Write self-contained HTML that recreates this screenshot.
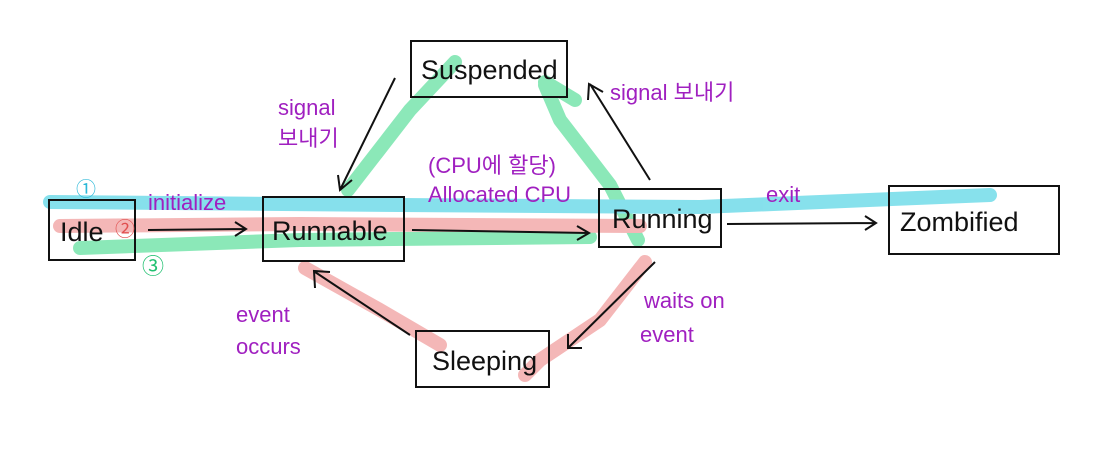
<!DOCTYPE html>
<html><head><meta charset="utf-8"><style>
html,body{margin:0;padding:0;background:#fff;}
svg{display:block}
text{font-family:"Liberation Sans","Noto Sans CJK KR",sans-serif;}
</style></head><body>
<svg width="1096" height="462" viewBox="0 0 1096 462" xmlns="http://www.w3.org/2000/svg">
<rect width="1096" height="462" fill="#fff"/>
<g fill="none" stroke-linecap="round" stroke-linejoin="round" opacity="0.6">
<path d="M80,248 L300,240 L590,237" stroke="#3fd98a" stroke-width="14"/>
<path d="M638,240 L610,185 L560,120 L545,85" stroke="#3fd98a" stroke-width="14"/>
<path d="M455,62 L410,110 L348,190" stroke="#3fd98a" stroke-width="14"/>
<path d="M575,100 L545,82" stroke="#3fd98a" stroke-width="14"/>
<path d="M60,226 L300,224 L640,226" stroke="#ee8888" stroke-width="14"/>
<path d="M645,262 L600,320 L540,360 L525,375" stroke="#ee8888" stroke-width="14"/>
<path d="M440,345 L380,310 L305,268" stroke="#ee8888" stroke-width="14"/>
<path d="M50,202 L400,205 L700,207 L990,195" stroke="#37cde0" stroke-width="14"/>
</g>
<g fill="none" stroke="#111" stroke-width="2">
<rect x="49" y="200" width="86" height="60"/>
<rect x="263" y="197" width="141" height="64"/>
<rect x="599" y="189" width="122" height="58"/>
<rect x="889" y="186" width="170" height="68"/>
<rect x="411" y="41" width="156" height="56"/>
<rect x="416" y="331" width="133" height="56"/>
<path d="M148,230 L245,229 M235,222 L246,229 L235,236"/>
<path d="M412,230 L588,233 M577,226 L589,233 L577,240"/>
<path d="M727,224 L875,223 M865,216 L876,223 L865,230"/>
<path d="M395,78 L340,190 M338,175 L340,190 L352,180"/>
<path d="M650,180 L590,84 M588,100 L589,84 L603,92"/>
<path d="M655,262 L568,348 M568,334 L568,348 L582,348"/>
<path d="M410,335 L315,272 M315,288 L314,271 L330,272"/>
</g>
<g fill="#111" font-size="27">
<text x="60" y="241">Idle</text>
<text x="272" y="240">Runnable</text>
<text x="612" y="228">Running</text>
<text x="900" y="231">Zombified</text>
<text x="421" y="79">Suspended</text>
<text x="432" y="370">Sleeping</text>
</g>
<g fill="#a020c0" font-size="22">
<text x="148" y="210">initialize</text>
<text x="428" y="173">(CPU에 할당)</text>
<text x="428" y="202">Allocated CPU</text>
<text x="766" y="202">exit</text>
<text x="278" y="115">signal</text>
<text x="278" y="146">보내기</text>
<text x="610" y="100">signal 보내기</text>
<text x="644" y="308">waits on</text>
<text x="640" y="342">event</text>
<text x="236" y="322">event</text>
<text x="236" y="354">occurs</text>
</g>
<text x="76" y="196" fill="#2bb8d8" font-size="20">①</text>
<text x="115" y="236" fill="#e05050" font-size="20">②</text>
<text x="142" y="274" fill="#20c070" font-size="22">③</text>
</svg>
</body></html>
